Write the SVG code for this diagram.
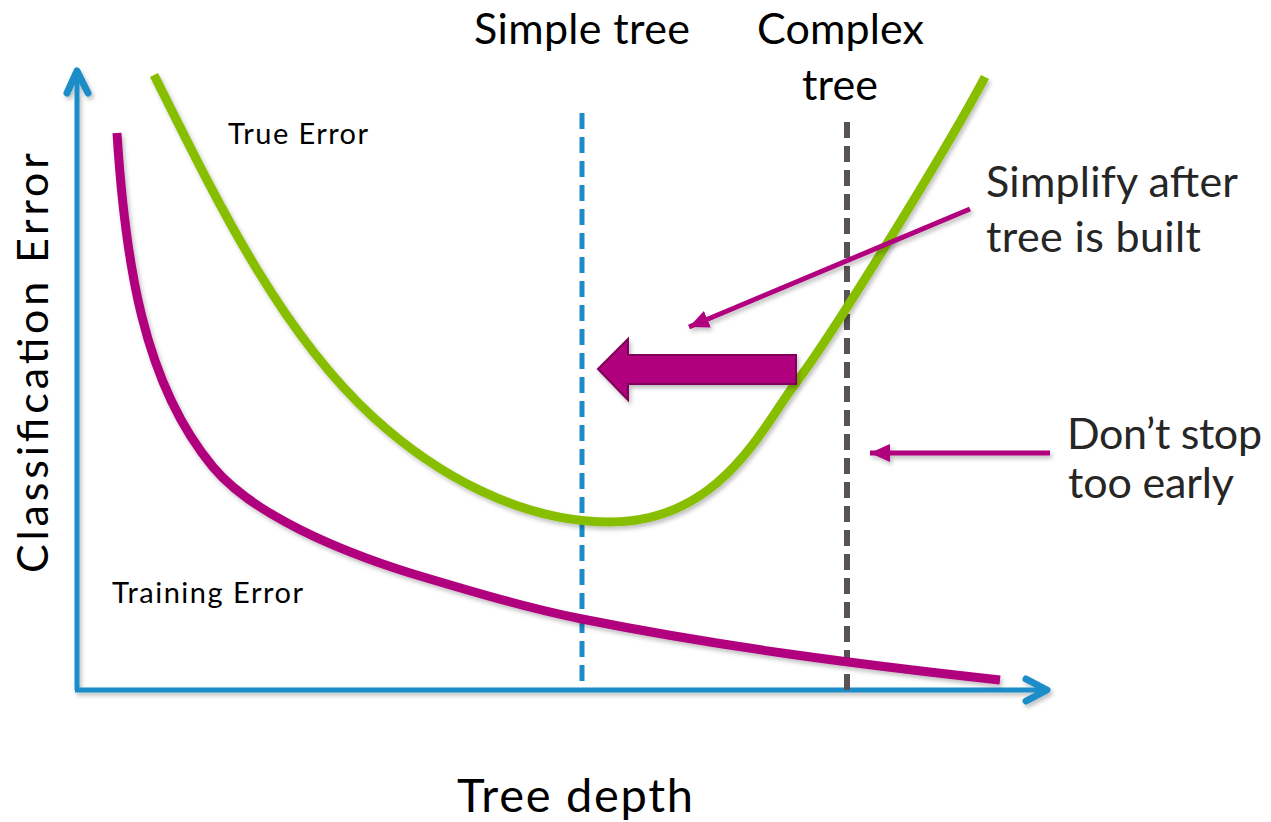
<svg xmlns="http://www.w3.org/2000/svg" width="1271" height="822" viewBox="0 0 1271 822">
<style>
  .lbl { font-family: Lato, "Open Sans", "Liberation Sans", sans-serif; fill: #000; }
  .note { font-family: Lato, "Open Sans", "Liberation Sans", sans-serif; fill: #262626; }
  .big { font-size: 43px; }
  .small { font-size: 29px; }
  .axis { fill: none; stroke: #1A8DC8; stroke-width: 5; }
  .chev { fill: none; stroke: #1A8DC8; stroke-width: 7; stroke-linecap: round; stroke-linejoin: round; }
  .curve { fill: none; stroke-width: 9; stroke-linecap: butt; }
  .ptr { fill: none; stroke: #B0007E; stroke-width: 5; }
</style>
<defs>
  <filter id="sh" x="-10%" y="-10%" width="130%" height="130%">
    <feDropShadow dx="2" dy="3" stdDeviation="2" flood-color="#000" flood-opacity="0.25"/>
  </filter>
  <marker id="head" markerUnits="userSpaceOnUse" markerWidth="22" markerHeight="20" refX="20" refY="9" orient="auto">
    <path d="M0,0 L20,9 L0,18 Z" fill="#B0007E"/>
  </marker>
</defs>
<rect width="1271" height="822" fill="#fff"/>

<g id="axes" filter="url(#sh)">
  <line class="axis" x1="77" y1="690" x2="77" y2="72"/>
  <polyline class="chev" points="67,93 77,71 88,93"/>
  <line class="axis" x1="75" y1="690" x2="1046" y2="690"/>
  <polyline class="chev" points="1026,679 1047,690 1026,701"/>
</g>

<g id="guides">
  <line x1="582" y1="113" x2="582" y2="690" stroke="#1A8DC8" stroke-width="5" stroke-dasharray="16 8"/>
  <line x1="847" y1="122" x2="847" y2="696" stroke="#595355" stroke-width="6" stroke-dasharray="16 8"/>
</g>

<g id="true-error" filter="url(#sh)">
  <path class="curve" stroke="#88BE00" d="M154,75 C214,195 278,330 373,417 C435,474 520,522 610,522 C720,522 762,428 795,384 C833,334 945,152 985,77"/>
</g>
<g id="training-error" filter="url(#sh)">
  <path class="curve" stroke="#B0007E" d="M117,133 C125,260 143,383 213,467 C253,515 340,551 410,573 C467,590 525,607.6 582,619 C722,647 860,664.6 1000,680"/>
</g>

<g id="connectors" filter="url(#sh)">
  <line class="ptr" x1="970" y1="209" x2="689" y2="327" marker-end="url(#head)"/>
  <line class="ptr" x1="1050" y1="453" x2="870" y2="453" marker-end="url(#head)"/>
  <path id="big-arrow" d="M598,369 L628,339 L628,355 L796,355 L796,384 L628,384 L628,400 Z" fill="#B0007E" stroke="#7E0058" stroke-width="2" stroke-linejoin="miter"/>
</g>

<g id="label-simple-tree">
  <text class="lbl big" x="474" y="44" textLength="216">Simple tree</text>
</g>
<g id="label-complex-tree">
  <text class="lbl big" x="757" y="44" textLength="167">Complex</text>
  <text class="lbl big" x="802" y="100" textLength="76">tree</text>
</g>
<g id="label-true-error">
  <text class="lbl small" x="228" y="144" textLength="140">True Error</text>
</g>
<g id="label-training-error">
  <text class="lbl small" x="112" y="603" textLength="191">Training Error</text>
</g>
<g id="note-simplify">
  <text class="note big" x="986" y="197" textLength="252">Simplify after</text>
  <text class="note big" x="986" y="252" textLength="215">tree is built</text>
</g>
<g id="note-dont-stop">
  <text class="note big" x="1067" y="449" textLength="195">Don’t stop</text>
  <text class="note big" x="1068" y="498" textLength="166">too early</text>
</g>
<g id="axis-x-label">
  <text class="lbl" font-size="47" x="457" y="812" textLength="236">Tree depth</text>
</g>
<g id="axis-y-label">
  <text class="lbl big" transform="translate(48,573) rotate(-90)" x="0" y="0" textLength="420">Classification Error</text>
</g>
</svg>
